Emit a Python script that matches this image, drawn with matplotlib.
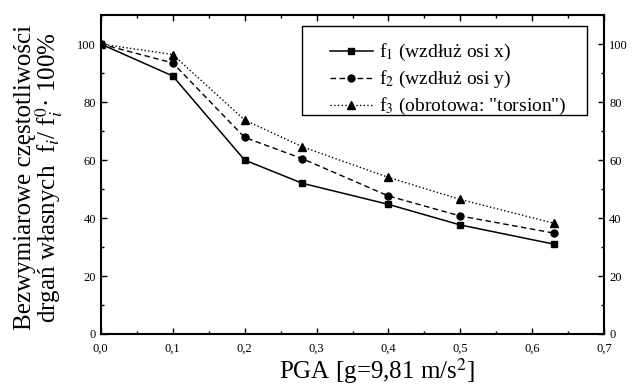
import numpy as np
import matplotlib
matplotlib.use("Agg")
import matplotlib.pyplot as plt
from matplotlib.patches import Rectangle
from matplotlib.ticker import MultipleLocator, FuncFormatter

plt.rcParams['font.family'] = ['Liberation Serif', 'DejaVu Serif']
plt.rcParams['mathtext.fontset'] = 'stix'

# dane
pga = [0.0, 0.1, 0.2, 0.28, 0.4, 0.5, 0.63]
f1 = [100, 89.0, 60.0, 52.0, 44.7, 37.6, 31.0]
f2 = [100, 93.5, 67.8, 60.5, 47.6, 40.7, 34.8]
f3 = [100, 96.4, 73.8, 64.6, 54.0, 46.4, 38.2]

fig = plt.figure(figsize=(6.34, 3.87), dpi=100)
ax = fig.add_axes([0.159, 0.137, 0.794, 0.824])

ax.plot(pga, f1, '-', color='black', marker='s', markersize=5, linewidth=1.1,
        label='f$_1$ (wzdłuż osi x)')
ax.plot(pga, f2, '--', color='black', marker='o', markersize=5, linewidth=1.0,
        dashes=(4, 2.5), label='f$_2$ (wzdłuż osi y)')
ax.plot(pga, f3, ':', color='black', marker='^', markersize=5.5, linewidth=1.0,
        label='f$_3$ (obrotowa: "torsion")')

ax.set_xlim(0, 0.7)
ax.set_ylim(0, 110)
ax.xaxis.set_major_locator(MultipleLocator(0.1))
ax.xaxis.set_minor_locator(MultipleLocator(0.05))
ax.yaxis.set_major_locator(MultipleLocator(20))
ax.yaxis.set_minor_locator(MultipleLocator(10))
ax.xaxis.set_major_formatter(FuncFormatter(lambda v, p: f"{v:.1f}".replace('.', ',')))
ax.yaxis.set_major_formatter(FuncFormatter(lambda v, p: f"{v:.0f}"))

ax.tick_params(which='both', direction='in', top=True, right=True,
               labelright=True, labelsize=9, width=1.0)
ax.tick_params(axis='x', pad=6)
ax.tick_params(which='major', length=4)
ax.tick_params(which='minor', length=2.5)
for s in ax.spines.values():
    s.set_linewidth(1.5)

ax.set_xlabel('PGA [g=9,81 m/s$^2$]', fontsize=18, va='center')
ax.xaxis.set_label_coords(0.549, -0.117)
ax.set_ylabel('Bezwymiarowe częstotliwości\ndrgań własnych  f$_i$/ f$_i^0$· 100%',
              fontsize=18, va='center', linespacing=0.9)
ax.yaxis.set_label_coords(-0.122, 0.49)

# ramka legendy rysowana osobno (szersza niż domyślna)
ax.add_patch(Rectangle((0.40, 0.687), 0.566, 0.279, transform=ax.transAxes,
                       fill=True, facecolor='white', edgecolor='black',
                       linewidth=1.0, zorder=4))
leg = ax.legend(loc='upper left', bbox_to_anchor=(0.436, 0.945), fontsize=14,
                frameon=False, handlelength=2.2, borderpad=0.0,
                labelspacing=0.3, handletextpad=0.3)
leg.set_zorder(5)

fig.savefig('out.png', dpi=100)
